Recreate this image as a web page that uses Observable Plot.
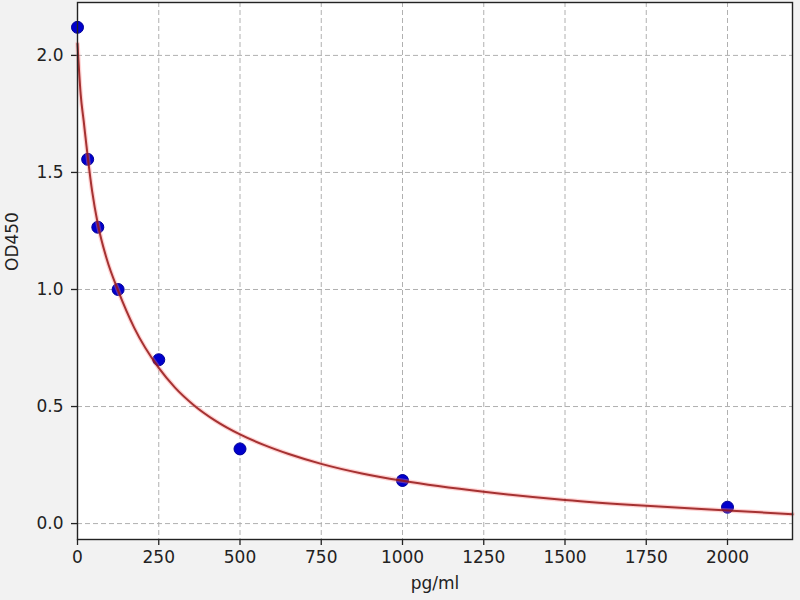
<!DOCTYPE html>
<html>
<head>
<meta charset="utf-8">
<script src="https://cdn.jsdelivr.net/npm/d3@7"></script>
<script src="https://cdn.jsdelivr.net/npm/@observablehq/plot@0.6"></script>
<style>
  html, body { margin: 0; padding: 0; background: #f2f2f2; }
</style>
</head>
<body>
<div id="chart"></div>
<script>
// Standard points
const conc = [0, 31.25, 62.5, 125, 250, 500, 1000, 2000];
const od = [2.12, 1.556, 1.266, 1.0, 0.70, 0.319, 0.184, 0.07];

// Fitted curve
const curveX = [0, 5, 10, 19, 31.25, 45, 62.5, 90, 125, 175, 250, 300, 357, 425, 500, 575, 650, 750, 875, 1000, 1250, 1500, 1750, 2000, 2200];
const curveY = [2.05, 1.93, 1.83, 1.72, 1.57, 1.42, 1.28, 1.13, 0.995, 0.835, 0.665, 0.581, 0.507, 0.439, 0.381, 0.335, 0.297, 0.255, 0.214, 0.183, 0.136, 0.101, 0.076, 0.056, 0.040];

const xTicks = [0, 250, 500, 750, 1000, 1250, 1500, 1750, 2000];
const yTicks = [0, 0.5, 1.0, 1.5, 2.0];

const points = conc.map((x, i) => ({x, y: od[i]}));
const curve = curveX.map((x, i) => ({x, y: curveY[i]}));

const chart = Plot.plot({
  width: 800,
  height: 600,
  marginLeft: 77,
  marginRight: 8,
  marginTop: 2,
  marginBottom: 61,
  style: {background: "#f2f2f2", fontFamily: "DejaVu Sans", fontSize: "17px", color: "#222"},
  x: {domain: [0, 2200], label: null},
  y: {domain: [-0.068, 2.226], label: null},
  marks: [
    Plot.frame({fill: "white", stroke: null}),
    Plot.gridX(xTicks, {stroke: "#b0b0b0", strokeOpacity: 1, strokeDasharray: "5,3", strokeWidth: 1}),
    Plot.gridY(yTicks, {stroke: "#b0b0b0", strokeOpacity: 1, strokeDasharray: "5,3", strokeWidth: 1}),
    Plot.axisX({ticks: xTicks, tickSize: 6, tickPadding: 5, tickFormat: d3.format("d"), stroke: "#222", fill: "#222", strokeWidth: 1.3}),
    Plot.axisY({ticks: yTicks, tickSize: 6, tickPadding: 8, tickFormat: d3.format(".1f"), stroke: "#222", fill: "#222", strokeWidth: 1.3}),
    Plot.dot(points, {x: "x", y: "y", r: 6, fill: "#0000cc", stroke: "#000099", strokeWidth: 1}),
    Plot.line(curve, {x: "x", y: "y", curve: "monotone-x", stroke: "#ff8080", strokeWidth: 4.5, strokeOpacity: 0.35}),
    Plot.line(curve, {x: "x", y: "y", curve: "monotone-x", stroke: "#951515", strokeWidth: 2, strokeOpacity: 0.85}),
    Plot.frame({stroke: "#222", strokeWidth: 1.4}),
    Plot.text(["pg/ml"], {frameAnchor: "bottom", dy: 49, fill: "#222", fontSize: 17}),
    Plot.text(["OD450"], {frameAnchor: "left", dx: -65, rotate: -90, fill: "#222", fontSize: 17})
  ]
});
document.getElementById("chart").appendChild(chart);
</script>
</body>
</html>
